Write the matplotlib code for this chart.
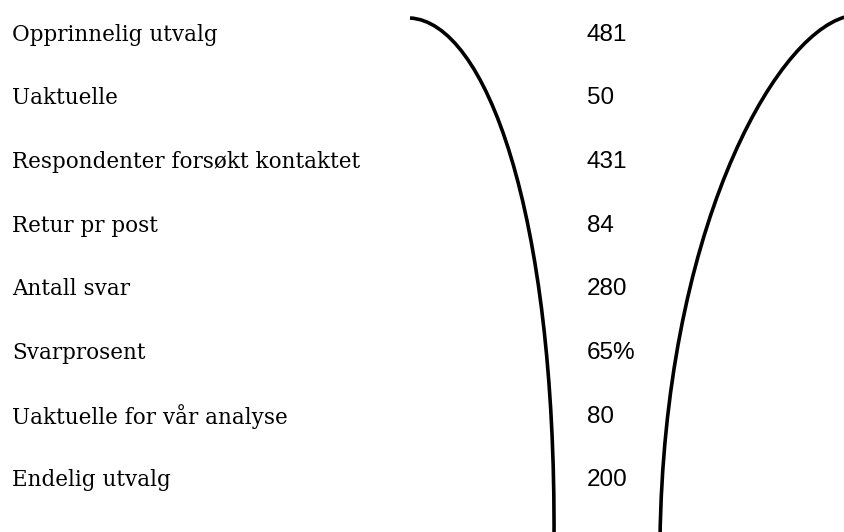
import matplotlib
matplotlib.use("Agg")
import matplotlib.pyplot as plt
from matplotlib.path import Path
from matplotlib.patches import PathPatch

# data
labels = [
    "Opprinnelig utvalg",
    "Uaktuelle",
    "Respondenter forsøkt kontaktet",
    "Retur pr post",
    "Antall svar",
    "Svarprosent",
    "Uaktuelle for vår analyse",
    "Endelig utvalg",
]
values = ["481", "50", "431", "84", "280", "65%", "80", "200"]

# funnel walls (pixel coords, cubic bezier control points)
left_wall = [(410, 18), (485, 22), (556, 210), (554, 540)]
right_wall = [(845, 17), (772, 38), (664, 235), (660, 540)]

W, H = 845, 532
fig = plt.figure(figsize=(W / 100, H / 100), dpi=100)
ax = fig.add_axes([0, 0, 1, 1])
ax.set_xlim(0, W)
ax.set_ylim(H, 0)
ax.axis("off")

row_y = [35, 98, 162, 226, 289, 353, 417, 480]

for y, lab, val in zip(row_y, labels, values):
    ax.text(12, y, lab, family="DejaVu Serif", fontsize=15.5, va="center", ha="left", color="black")
    ax.text(587, y, val, family="Liberation Sans", fontsize=17.5, va="center", ha="left", color="black")

codes = [Path.MOVETO, Path.CURVE4, Path.CURVE4, Path.CURVE4]
for pts in (left_wall, right_wall):
    ax.add_patch(PathPatch(Path(pts, codes), fill=False, lw=2.6, edgecolor="black", capstyle="butt"))

fig.savefig("out.png", dpi=100, facecolor="white")
